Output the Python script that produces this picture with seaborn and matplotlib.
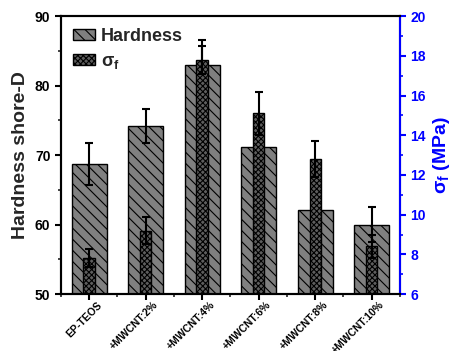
import matplotlib
matplotlib.use("Agg")
import matplotlib.pyplot as plt
import matplotlib.transforms as mtransforms
import seaborn as sns
import pandas as pd
from matplotlib.patches import Patch
from matplotlib.ticker import MultipleLocator

categories = ["EP-TEOS", "+MWCNT:2%", "+MWCNT:4%", "+MWCNT:6%", "+MWCNT:8%", "+MWCNT:10%"]
hardness = [68.7, 74.2, 82.9, 71.2, 62.1, 60.0]
hardness_err = [3.0, 2.5, 3.7, 2.5, 2.5, 2.5]
sigma_f = [7.8, 9.2, 17.8, 15.1, 12.8, 8.4]
sigma_err = [0.45, 0.7, 0.7, 1.1, 0.9, 0.6]

sns.set_style("ticks")
plt.rcParams['font.family'] = ['Liberation Sans', 'DejaVu Sans']
plt.rcParams['font.weight'] = 'bold'
plt.rcParams['mathtext.fontset'] = 'custom'
plt.rcParams['mathtext.rm'] = 'Liberation Sans:bold'
plt.rcParams['mathtext.bf'] = 'Liberation Sans:bold'
plt.rcParams['mathtext.it'] = 'Liberation Sans:bold'
plt.rcParams['hatch.linewidth'] = 0.8

df = pd.DataFrame({"cat": categories, "hardness": hardness, "sigma": sigma_f})

fig = plt.figure(figsize=(4.54, 3.51), dpi=100)
ax = fig.add_axes([0.134, 0.162, 0.747, 0.792])
ax2 = ax.twinx()

sns.barplot(data=df, x="cat", y="hardness", ax=ax, color="#808080", width=0.62,
            edgecolor="black", linewidth=1.0, saturation=1, errorbar=None, zorder=2)
for p in ax.patches:
    p.set_hatch('\\\\\\')
ax.errorbar(range(len(categories)), hardness, yerr=hardness_err, fmt='none',
            ecolor='black', elinewidth=1.5, capsize=3, capthick=1.5, zorder=3)

sns.barplot(data=df, x="cat", y="sigma", ax=ax2, color="#5e5e5e", width=0.2,
            edgecolor="black", linewidth=1.0, saturation=1, errorbar=None, zorder=2)
for p in ax2.patches:
    p.set_hatch('xxxxxx')
ax2.errorbar(range(len(categories)), sigma_f, yerr=sigma_err, fmt='none',
             ecolor='black', elinewidth=1.5, capsize=3, capthick=1.5, zorder=3)

ax.set_xlim(-0.5, 5.5)
ax.set_ylim(50, 90)
ax2.set_ylim(6, 20)
ax.yaxis.set_major_locator(MultipleLocator(10))
ax.yaxis.set_minor_locator(MultipleLocator(5))
ax2.yaxis.set_major_locator(MultipleLocator(2))
ax2.yaxis.set_minor_locator(MultipleLocator(1))
ax.set_xticks(range(len(categories)))
ax.set_xticks([i + 0.5 for i in range(-1, 6)], minor=True)

ax.set_xlabel("")
ax.set_ylabel("Hardness shore-D", fontsize=14, fontweight='bold', labelpad=4)
ax2.set_ylabel("σ$_\\mathrm{f}$ (MPa)", fontsize=14, fontweight='bold', color='blue')

for a in (ax, ax2):
    for s in a.spines.values():
        s.set_linewidth(1.5)
        s.set_color('black')
ax2.spines['right'].set_color('blue')
ax.tick_params(axis='both', which='major', direction='out', length=4, width=1.5,
               labelsize=10, colors='black')
ax.tick_params(axis='both', which='minor', direction='out', length=2.5, width=1.2)
ax.tick_params(axis='x', which='major', pad=0)
ax2.tick_params(axis='y', which='major', direction='out', length=4, width=1.5,
                labelsize=10, colors='blue')
ax2.tick_params(axis='y', which='minor', direction='out', length=2.5, width=1.2, colors='blue')
for lbl in ax.get_yticklabels() + ax2.get_yticklabels():
    lbl.set_fontweight('bold')

ax.set_xticklabels(categories, rotation=45, ha='right', rotation_mode='anchor',
                   fontsize=7.5, fontweight='bold')
offset = mtransforms.ScaledTranslation(0.075, 0.0, fig.dpi_scale_trans)
for lbl in ax.get_xticklabels():
    lbl.set_transform(lbl.get_transform() + offset)

handles = [Patch(facecolor="#808080", edgecolor="black", hatch='\\\\\\', label="Hardness"),
           Patch(facecolor="#5e5e5e", edgecolor="black", hatch='xxxxxx', label="σ$_\\mathrm{f}$")]
ax.legend(handles=handles, loc='upper left', frameon=False,
          prop={'weight': 'bold', 'size': 13}, handlelength=1.25, handleheight=0.55,
          borderaxespad=0.25, labelspacing=0.45, handletextpad=0.3)

fig.savefig("out.png", dpi=100)
